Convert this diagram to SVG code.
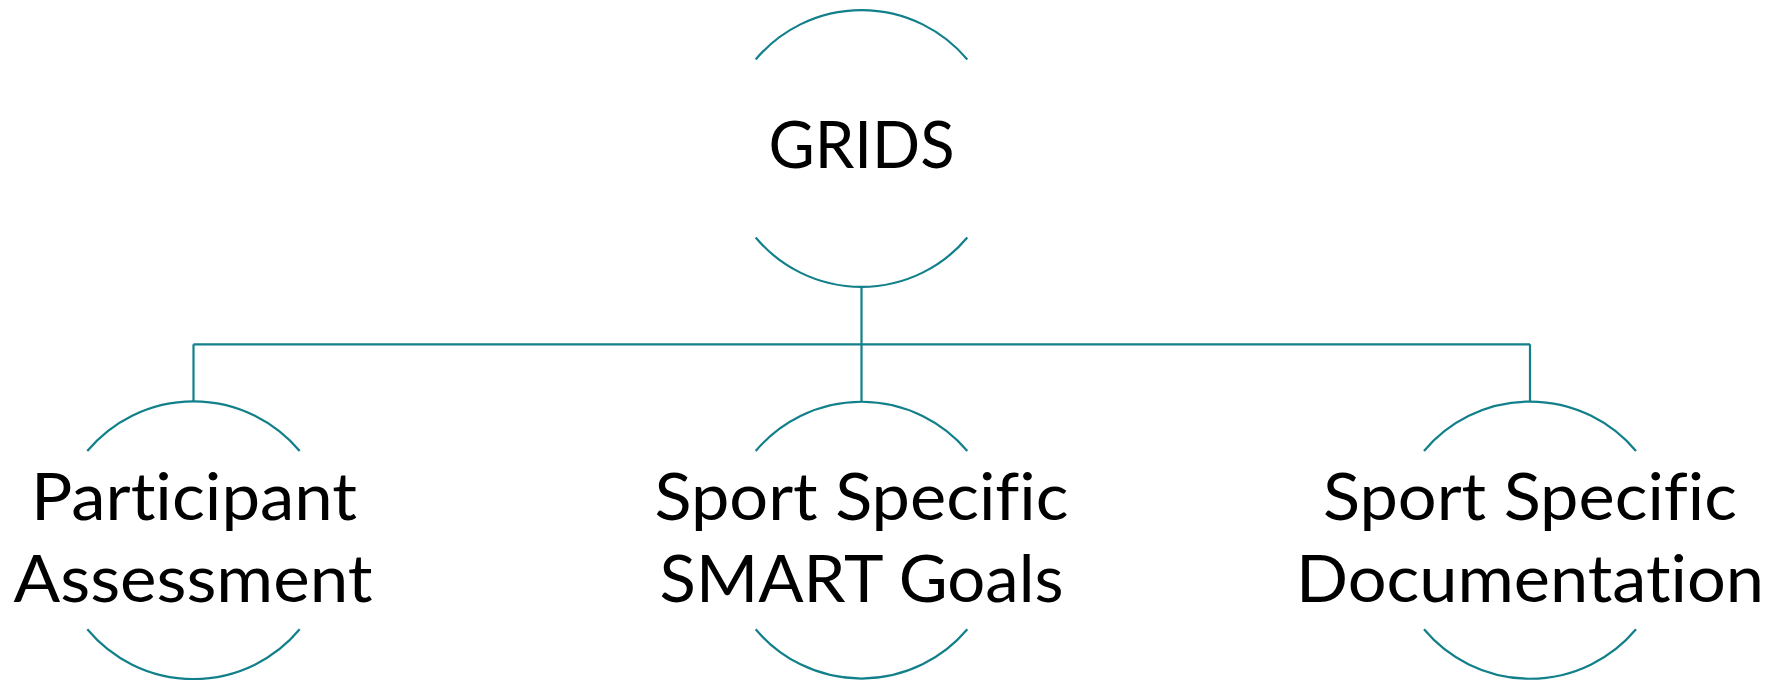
<svg xmlns="http://www.w3.org/2000/svg" width="1785" height="681" viewBox="0 0 1785 681">
<style>
.arc{fill:none;stroke:#12808A;stroke-width:2.2}
.con{fill:none;stroke:#12808A;stroke-width:2.2}
.t{font-family:Lato,"Open Sans","Liberation Sans",sans-serif;font-size:66px;fill:#000;text-anchor:middle;font-variant-ligatures:none;font-feature-settings:"liga" 0,"clig" 0}
</style>
<rect width="1785" height="681" fill="#fff"/>
<g id="connectors">
<path class="con" d="M861.5 286 V344.3 M193.5 344.3 H1530 M193.5 344.3 V402 M861.5 344.3 V402 M1530 344.3 V402"/>
</g>
<g id="node-grids">
<path class="arc" d="M755.7 59.5 A138 138 0 0 1 967.3 59.5"/>
<path class="arc" d="M755.7 237.5 A138 138 0 0 0 967.3 237.5"/>
<text class="t" x="861.5" y="168.3" textLength="186" lengthAdjust="spacingAndGlyphs">GRIDS</text>
</g>
<g id="node-participant">
<path class="arc" d="M87.3 451 A138.3 138.3 0 0 1 299.7 451"/>
<path class="arc" d="M87.3 629.3 A138.3 138.3 0 0 0 299.7 629.3"/>
<text class="t" x="194" y="520" textLength="326" lengthAdjust="spacingAndGlyphs">Participant</text>
<text class="t" x="193" y="601.7" textLength="359" lengthAdjust="spacingAndGlyphs">Assessment</text>
</g>
<g id="node-smart">
<path class="arc" d="M755.7 451 A138.3 138.3 0 0 1 967.3 451"/>
<path class="arc" d="M755.7 629.3 A138.3 138.3 0 0 0 967.3 629.3"/>
<text class="t" x="861.5" y="520" textLength="414" lengthAdjust="spacingAndGlyphs">Sport Specific</text>
<text class="t" x="861.5" y="601.7" textLength="404" lengthAdjust="spacingAndGlyphs">SMART Goals</text>
</g>
<g id="node-documentation">
<path class="arc" d="M1424 451 A138.3 138.3 0 0 1 1636 451"/>
<path class="arc" d="M1424 629.3 A138.3 138.3 0 0 0 1636 629.3"/>
<text class="t" x="1530" y="520" textLength="414" lengthAdjust="spacingAndGlyphs">Sport Specific</text>
<text class="t" x="1530" y="601.7" textLength="468" lengthAdjust="spacingAndGlyphs">Documentation</text>
</g>
</svg>
